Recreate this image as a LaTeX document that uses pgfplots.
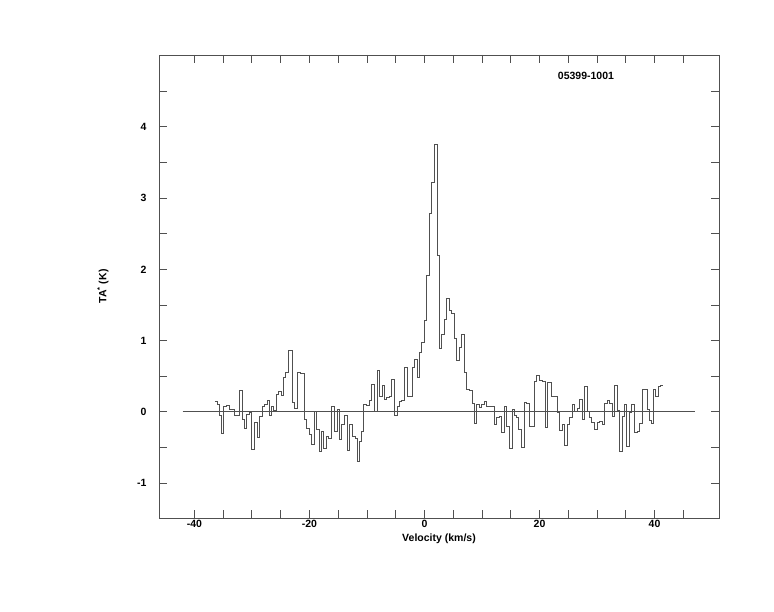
\documentclass[border=0pt]{standalone}
\usepackage{fontspec}
\setmainfont{Liberation Sans}
\usepackage{pgfplots}
\pgfplotsset{compat=1.18}
\definecolor{ink}{HTML}{505050}
\pgfplotstableread{
x y
-36.42 0.14
-36.02 0.10
-35.67 -0.05
-35.26 -0.30
-34.86 0.08
-34.39 0.09
-33.99 0.04
-33.52 0.04
-33.06 -0.05
-32.60 -0.05
-32.13 0.30
-31.67 -0.11
-31.32 -0.23
-30.98 -0.04
-30.51 -0.01
-30.05 -0.53
-29.59 -0.15
-29.12 -0.36
-28.66 -0.06
-28.25 0.07
-27.79 0.11
-27.33 0.16
-26.92 -0.05
-26.57 0.08
-26.23 0.02
-25.71 0.25
-25.42 0.29
-24.95 0.23
-24.49 0.49
-24.14 0.55
-23.68 0.86
-22.98 0.13
-22.64 0.05
-22.06 0.56
-21.48 0.54
-20.90 -0.10
-20.49 -0.23
-20.03 -0.32
-19.62 -0.46
-19.16 0.00
-18.75 -0.24
-18.30 -0.55
-17.83 -0.28
-17.48 -0.51
-16.96 -0.35
-16.61 -0.38
-16.09 0.07
-15.63 -0.28
-15.16 0.04
-14.76 -0.39
-14.35 -0.18
-13.89 -0.05
-13.31 -0.54
-12.96 -0.17
-12.50 -0.35
-12.04 -0.37
-11.57 -0.70
-11.28 -0.42
-10.93 -0.27
-10.53 0.11
-10.07 0.09
-9.60 0.16
-9.14 0.39
-8.68 0.00
-8.21 0.58
-7.75 0.22
-7.35 0.37
-6.94 0.18
-6.53 0.20
-6.13 0.21
-5.66 0.45
-5.20 -0.05
-4.74 0.08
-4.33 0.15
-3.93 0.16
-3.46 0.62
-3.00 0.21
-2.54 0.21
-2.07 0.62
-1.73 0.74
-1.26 0.49
-0.86 0.84
-0.45 0.98
-0.05 1.28
0.36 1.91
0.82 2.79
1.29 3.22
1.69 3.75
2.27 2.20
2.56 0.89
2.96 1.09
3.43 1.30
3.89 1.59
4.30 1.42
4.76 1.38
5.17 1.03
5.63 0.72
6.03 0.90
6.50 1.09
6.90 0.56
7.37 0.31
7.83 0.30
8.29 0.12
8.64 -0.16
9.10 0.11
9.51 0.06
9.97 0.10
10.38 0.14
10.84 0.08
11.25 0.08
11.71 0.08
12.11 -0.17
12.58 -0.08
12.98 -0.06
13.45 -0.29
13.85 0.07
14.32 -0.20
14.78 -0.51
15.25 0.03
15.59 -0.05
16.00 -0.08
16.40 -0.25
16.80 -0.50
17.30 0.13
17.75 0.12
18.20 -0.21
18.60 -0.20
19.10 0.43
19.50 0.51
19.95 0.44
20.45 0.42
20.95 -0.22
21.40 0.41
22.00 0.21
22.55 0.21
23.06 -0.01
23.47 -0.26
23.93 -0.18
24.34 -0.47
24.80 -0.18
25.27 -0.08
25.67 0.11
26.08 0.01
26.54 0.05
26.95 0.18
27.41 -0.11
27.76 0.35
28.28 0.01
28.69 -0.08
29.09 -0.15
29.55 -0.24
30.02 -0.15
30.48 -0.13
30.88 -0.18
31.29 0.12
31.75 0.16
32.16 0.12
32.62 -0.06
33.03 0.37
33.49 0.02
33.90 -0.56
34.36 -0.06
34.77 0.10
35.11 -0.49
35.63 -0.01
36.04 0.10
36.50 -0.29
36.97 -0.27
37.37 -0.16
37.84 0.31
38.30 0.31
38.71 0.03
39.05 -0.12
39.46 -0.16
39.86 0.32
40.15 0.21
40.61 0.35
41.02 0.37
41.50 0.37
}\spectrum
\begin{document}
\begin{tikzpicture}[x=1pt,y=1pt]
\path (0,0) rectangle (774,612);
\begin{axis}[
  at={(159pt,94pt)}, anchor=south west,
  scale only axis, width=560pt, height=463pt,
  xmin=-46.15, xmax=51.2, ymin=-1.49, ymax=5.01,
  axis line style={ink, line width=0.9pt},
  tick align=inside,
  xtick={-40,-20,0,20,40}, xticklabels={-40,-20,0,20,40},
  minor xtick={-35,-30,-25,-15,-10,-5,5,10,15,25,30,35,45},
  ytick={-1,0,1,2,3,4}, yticklabels={-1,0,1,2,3,4},
  minor ytick={-0.5,0.5,1.5,2.5,3.5,4.5},
  major tick length=8pt, minor tick length=8pt,
  tick style={ink, line width=0.9pt},
  tick label style={font=\fontsize{10.5}{12}\selectfont\bfseries},
  yticklabel style={xshift=-9pt},
  xticklabel style={yshift=1pt},
  xlabel={Velocity (km/s)},
  ylabel={TA\textsuperscript{*} (K)},
  label style={font=\fontsize{10.5}{12}\selectfont\bfseries},
  xlabel style={at={(axis description cs:0.5,0)}, anchor=north, yshift=-12pt},
  ylabel style={at={(axis description cs:-0.1,0.5)}, anchor=center},
]
\addplot[ink, line width=0.9pt] coordinates {(-42.06,0) (46.95,0)};
\addplot[const plot, ink, line width=0.9pt] table[x=x, y=y] {\spectrum};
\node[font=\fontsize{10.5}{12}\selectfont\bfseries] at (axis description cs:0.7625,0.9546) {05399-1001};
\end{axis}
\end{tikzpicture}
\end{document}
